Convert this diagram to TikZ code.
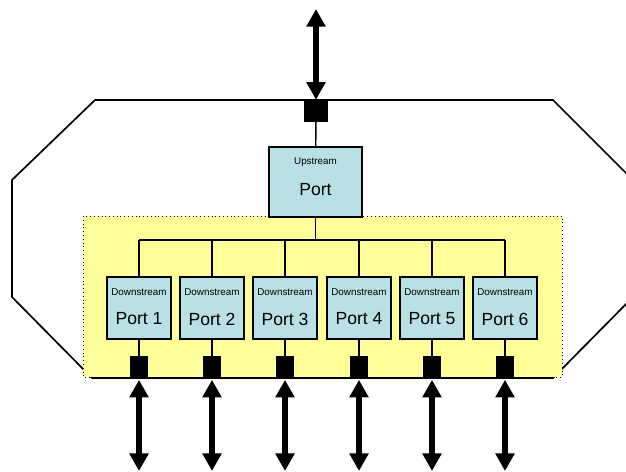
\documentclass[tikz,border=0pt]{standalone}
\usepackage{fontspec}
\setmainfont{Liberation Sans}
\usetikzlibrary{arrows.meta}
\definecolor{boxcyan}{RGB}{185,224,228}
\definecolor{hubyellow}{RGB}{255,255,153}
\tikzset{
    portbox/.style={draw, line width=1.3pt, fill=boxcyan, inner sep=0pt},
    plug/.style={draw, fill=black, inner sep=0pt},
    smalltxt/.style={inner sep=0pt, font=\fontsize{7}{8}\selectfont},
    bigtxt/.style={inner sep=0pt, font=\fontsize{12.5}{14}\selectfont},
    link/.style={line width=4pt, {Triangle[width=13pt,length=12.5pt]}-{Triangle[width=13pt,length=12.5pt]}}
}
\newcommand{\drawport}[2]{
    % Box and its two lines of text
    \node[portbox, minimum width=1.6cm, minimum height=1.55cm] (p#1) at (#2,308) {};
    \node[smalltxt] (d#1) at (#2,292) {Downstream};
    \node[bigtxt] (n#1) at (#2,319) {Port #1};
    
    % Square below the box and the link leaving it
    \node[plug, minimum width=0.425cm, minimum height=0.5cm] (s#1) at (#2,366) {};
    \coordinate (e#1) at (#2,471);
    \draw[line width=1pt] (p#1) -- (s#1);
    \draw[link, shorten <=2.5pt] (s#1.south) -- (e#1);
    
    % Drop from the bus
    \draw[line width=1pt] (p#1.north) -- (p#1.north |- busL);
}
\begin{document}
\begin{tikzpicture}[x=0.025cm, y=-0.025cm]
        \useasboundingbox (0,0) rectangle (626,472);
        
        % Outline of the switch
        \draw[line width=1.2pt] (95,100) -- (553,100) -- (633,180) -- (633,297) -- (553,378)
            -- (92,378) -- (12,297) -- (12,180) -- cycle;
        
        % Shaded area holding the downstream ports
        \fill[hubyellow] (83,216) rectangle (562,377);
        \draw[dotted, line width=0.7pt] (83,216) rectangle (562,377);
        
        % Upstream port
        \node[portbox, minimum width=2.325cm, minimum height=1.75cm] (up) at (315.5,182) {};
        \node[smalltxt] (upt) at (315.5,162) {Upstream};
        \node[bigtxt] (upn) at (315.5,190) {Port};
        \node[plug, minimum width=0.575cm, minimum height=0.525cm] (us) at (316,110.5) {};
        \coordinate (ue) at (316,9);
        \draw[line width=1pt] (us) -- (up);
        \draw[link] (us.north) -- (ue);
        
        % Internal bus
        \coordinate (busL) at (139,240);
        \coordinate (busR) at (505,240);
        \draw[line width=1pt] (busL) -- (busR);
        \draw[line width=1pt] (up.south) -- (up.south |- busL);
        
        % Downstream ports
        \drawport{1}{139}
        \drawport{2}{212}
        \drawport{3}{285}
        \drawport{4}{359}
        \drawport{5}{432}
        \drawport{6}{505}
        
    \end{tikzpicture}
\end{document}
